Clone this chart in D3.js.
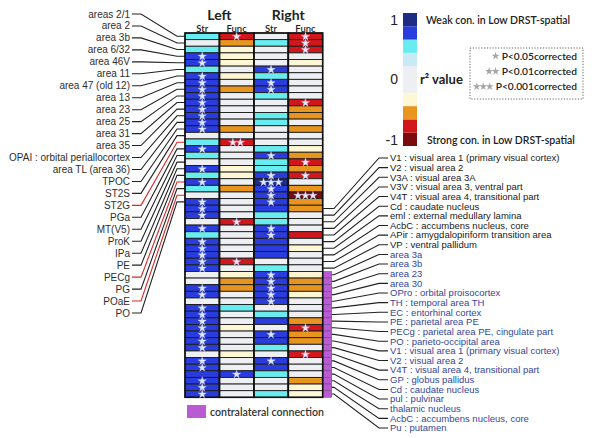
<!DOCTYPE html>
<html><head><meta charset="utf-8">
<script src="https://cdn.jsdelivr.net/npm/d3@7"></script>
<style>body{margin:0;background:#fff}svg{display:block}</style></head>
<body><svg id="c" width="600" height="438"></svg>
<script>
// ---------- data ----------
const leftLabels = ["areas 2/1","area 2","area 3b","area 6/32","area 46V","area 11","area 47 (old 12)","area 13","area 23","area 25","area 31","area 35","OPAI : orbital periallocortex","area TL (area 36)","TPOC","ST2S","ST2G","PGa","MT(V5)","ProK","IPa","PE","PECg","PG","POaE","PO"];
const leftRedLine = [0,0,0,0,0,0,0,0,0,0,0,0,0,0,0,0,1,0,0,0,0,0,1,0,1,0];
const rightLabels = ["V1 : visual area 1 (primary visual cortex)","V2 : visual area 2","V3A : visual area 3A","V3V : visual area 3, ventral part","V4T : visual area 4, transitional part","Cd : caudate nucleus","eml : external medullary lamina","AcbC : accumbens nucleus, core","APir : amygdalopiriform transition area","VP : ventral pallidum","area 3a","area 3b","area 23","area 30","OPro : orbital proisocortex","TH : temporal area TH","EC : entorhinal cortex","PE : parietal area PE","PECg : parietal area PE, cingulate part","PO : parieto-occipital area","V1 : visual area 1 (primary visual cortex)","V2 : visual area 2","V4T : visual area 4, transitional part","GP : globus pallidus","Cd : caudate nucleus","pul : pulvinar","thalamic nucleus","AcbC : accumbens nucleus, core","Pu : putamen"];
const rightContra = [0,0,0,0,0,0,0,0,0,0,1,1,1,1,1,1,1,1,1,1,1,1,1,1,1,1,1,1,1];

const groups = ["Left","Right"];
const columns = ["Str","Func","Str","Func"];

// r² values per row (rows 1-26 = left labels, rows 27-55 = right labels)
const leftStr  = [.5,0,.5,.7,.7,.5,.7,.7,.7,.7, .7,.7,.7,.7,.7,0,.5,.7,.5,0, .7,.5,.7,.5,0,.7,.7,.7,0,.7, .5,.7,.7,.7,.7,.7,0,0,.7,.7, 0,.7,.7,.7,.7,.7,.7,.7,0,.7, .7,.7,.7,.7,.7];
const leftFunc = [-.7,-.5,-.3,-.3,-.3,0,-.3,0,-.5,0, 0,0,0,0,-.5,0,-.7,0,0,0, -.3,-.3,0,-.5,0,0,0,0,-.7,0, 0,0,0,0,-.7,0,-.3,-.5,-.5,0, 0,.5,0,0,-.3,0,0,0,-.3,0, 0,.7,0,0,0];
const rightStr = [0,.5,0,0,0,.7,.5,.7,.7,.5, 0,0,.5,.5,0,0,0,.5,.7,.5, .5,.7,.9,.7,.7,.7,.7,.5,.5,.7, .7,.7,.7,.7,0,.5,.7,.7,.7,.7, .7,0,.5,.7,0,.7,.7,.5,0,.7, .7,.5,0,0,.5];
const rightFunc= [-.7,-.7,-.7,0,-.3,0,0,0,0,0, -.7,-.5,-.5,0,-.5,0,0,-.3,-.5,-.7, -.5,-.7,0,-.5,-.9,-.5,-.5,0,0,0, -.7,0,-.3,0,0,0,-.3,-.5,-.5,-.3, 0,0,0,-.5,-.7,-.5,-.5,0,-.7,0, 0,0,-.5,-.3,-.3];
// significance: number of asterisks
const leftStrSig  = [0,0,0,1,1,0,1,1,1,1, 1,1,1,1,1,0,0,1,0,0, 1,0,1,0,0,1,1,1,0,1, 0,1,1,1,1,1,0,0,1,1, 0,1,1,1,1,1,1,1,0,1, 1,0,1,1,1];
const leftFuncSig = [1,0,0,0,0,0,0,0,0,0, 0,0,0,0,0,0,2,0,0,0, 0,0,0,0,0,0,0,0,1,0, 0,0,0,0,1,0,0,0,0,0, 0,0,0,0,0,0,0,0,0,0, 0,1,0,0,0];
const rightStrSig = [0,0,0,0,0,1,0,1,1,0, 0,0,0,0,0,0,0,0,1,0, 0,1,3,1,1,1,0,0,0,1, 1,0,0,0,0,0,1,1,1,1, 1,0,0,0,0,1,0,0,0,1, 0,0,0,0,0];
const rightFuncSig= [1,1,1,0,0,0,0,0,0,0, 1,0,0,0,0,0,0,0,0,1, 0,1,0,0,3,0,0,0,0,0, 0,0,0,0,0,0,0,0,0,0, 0,0,0,0,1,0,0,0,1,0, 0,0,0,0,0];

const legendTicks = [1, 0, -1];
const sigLabels = ["P<0.05corrected","P<0.01corrected","P<0.001corrected"];

// ---------- scales ----------
const svg = d3.select("#c");
const nRows = leftStr.length;
const colKeys = d3.range(columns.length);
const x = d3.scaleBand().domain(colKeys).range([185, 322.7]);
const y = d3.scaleBand().domain(d3.range(nRows)).range([33, 397.3]);
const color = d3.scaleThreshold()
  .domain([-0.8,-0.6,-0.4,-0.2,0.2,0.4,0.6,0.8])
  .range(["#7c0b0e","#d0181c","#e8951f","#fdf7d6","#edeff2","#c9e9f5","#68ecf0","#2a3ddc","#1e2c84"]);

const colData = [
  {vals:leftStr, sig:leftStrSig},
  {vals:leftFunc, sig:leftFuncSig},
  {vals:rightStr, sig:rightStrSig},
  {vals:rightFunc, sig:rightFuncSig}
];

const labelFont = "'Liberation Sans', Arial, sans-serif";
const gillFont = "Lato, 'Open Sans', sans-serif";

// ---------- headers ----------
svg.selectAll("text.grp").data(groups).enter().append("text")
  .attr("x", (d,i) => (x(i*2) + x(i*2+1) + x.bandwidth()) / 2)
  .attr("y", 20).attr("text-anchor","middle")
  .attr("font-family", gillFont).attr("font-weight", 700).attr("font-size", 14)
  .attr("fill","#222").text(d => d);
svg.selectAll("text.colh").data(columns).enter().append("text")
  .attr("x", (d,i) => x(i) + x.bandwidth()/2)
  .attr("y", 31.5).attr("text-anchor","middle")
  .attr("font-family", gillFont).attr("font-weight", 600).attr("font-size", 9.5)
  .attr("fill","#222").text(d => d);

// ---------- connectors left ----------
const ly = d3.scalePoint().domain(d3.range(leftLabels.length)).range([14, 313]);
const line = d3.line();
const rowC = i => y(i) + y.bandwidth()/2;
const gL = svg.append("g");
leftLabels.forEach((lab, i) => {
  gL.append("path")
    .attr("d", line([[132, ly(i)],[141, ly(i)],[177, rowC(i)],[185, rowC(i)]]))
    .attr("fill","none").attr("stroke", leftRedLine[i] ? "#d42a2a" : "#222").attr("stroke-width", 1.1);
  gL.append("text").attr("x", 130).attr("y", ly(i)).attr("dy","0.35em")
    .attr("text-anchor","end").attr("font-family", labelFont).attr("font-size", 10)
    .attr("fill","#2e2e2e").text(lab);
});

// ---------- contralateral bar ----------
const offset = leftLabels.length;
const barX0 = x(3) + x.bandwidth(), barW = 9;
rightLabels.forEach((lab, j) => {
  if (rightContra[j]) {
    svg.append("rect").attr("x", barX0).attr("y", y(offset+j))
      .attr("width", barW).attr("height", y.bandwidth())
      .attr("fill","#b95bd3").attr("stroke","#6a3a7a").attr("stroke-width",0.5);
  }
});

// ---------- connectors right ----------
const ry = d3.scalePoint().domain(d3.range(rightLabels.length)).range([158, 428]);
const gR = svg.append("g");
rightLabels.forEach((lab, j) => {
  const r = offset + j;
  const sx = rightContra[j] ? barX0 + barW : barX0;
  gR.append("path")
    .attr("d", line([[sx, rowC(r)],[334, rowC(r)],[379, ry(j)],[388, ry(j)]]))
    .attr("fill","none").attr("stroke","#222").attr("stroke-width", 1.1);
  gR.append("text").attr("x", 390).attr("y", ry(j)).attr("dy","0.35em")
    .attr("font-family", labelFont).attr("font-size", 9.5)
    .attr("fill", rightContra[j] ? "#34479b" : "#1a1a1a").text(lab);
});

// ---------- grid ----------
const gG = svg.append("g");
colData.forEach((col, ci) => {
  col.vals.forEach((v, ri) => {
    gG.append("rect").attr("x", x(ci)).attr("y", y(ri))
      .attr("width", x.bandwidth()).attr("height", y.bandwidth())
      .attr("fill", color(v)).attr("stroke","#1a1a1a").attr("stroke-width",0.9);
  });
});
colKeys.forEach(ci => {
  gG.append("rect").attr("x", x(ci)).attr("y", y(0))
    .attr("width", x.bandwidth()).attr("height", y.bandwidth()*nRows)
    .attr("fill","none").attr("stroke","#111").attr("stroke-width",1.6);
});
const star = d3.symbol().type(d3.symbolStar).size(22);
colData.forEach((col, ci) => {
  col.sig.forEach((n, ri) => {
    for (let k = 0; k < n; k++) {
      const cx = x(ci) + x.bandwidth()/2 + (k - (n-1)/2) * 7.5;
      gG.append("path").attr("d", star())
        .attr("transform", `translate(${cx},${rowC(ri)+0.3})`)
        .attr("fill", "#e2e8ff").attr("stroke","#c9d2ff").attr("stroke-width",0.3);
    }
  });
});

// ---------- colour legend ----------
const yL = d3.scaleLinear().domain([1,-1]).range([13,146]);
const edges = [-1].concat(color.domain()).concat([1]);
const gLeg = svg.append("g");
color.range().forEach((c, i) => {
  gLeg.append("rect").attr("x", 403).attr("y", yL(edges[i+1]))
    .attr("width", 14).attr("height", yL(edges[i]) - yL(edges[i+1]))
    .attr("fill", c);
});
gLeg.selectAll("text.tk").data(legendTicks).enter().append("text")
  .attr("x", 398).attr("y", d => Math.max(20, Math.min(140, yL(d))))
  .attr("dy","0.35em").attr("text-anchor","end")
  .attr("font-family", labelFont).attr("font-size", 14).attr("fill","#222")
  .text(d => d);
gLeg.append("text").attr("x", 420).attr("y", yL(0)).attr("dy","0.35em")
  .attr("font-family", gillFont).attr("font-weight",700).attr("font-size", 13)
  .attr("fill","#222").text("r² value");
gLeg.append("text").attr("x", 426).attr("y", 20).attr("dy","0.35em")
  .attr("font-family", gillFont).attr("font-weight",600).attr("font-size", 10.5)
  .attr("fill","#222").text("Weak con. in Low DRST-spatial");
gLeg.append("text").attr("x", 427).attr("y", 140).attr("dy","0.35em")
  .attr("font-family", gillFont).attr("font-weight",600).attr("font-size", 10.5)
  .attr("fill","#222").text("Strong con. in Low DRST-spatial");

// significance box
gLeg.append("rect").attr("x", 470).attr("y", 48).attr("width", 113).attr("height", 51)
  .attr("fill","none").attr("stroke","#555").attr("stroke-width",0.9).attr("stroke-dasharray","1.2,1.6");
const gstar = d3.symbol().type(d3.symbolStar).size(20);
sigLabels.forEach((s, i) => {
  const yy = 56 + i*15.3;
  const t = gLeg.append("text").attr("x", 577).attr("y", yy).attr("dy","0.35em")
    .attr("text-anchor","end").attr("font-family", gillFont).attr("font-weight",600)
    .attr("font-size", 10.2).attr("fill","#222").text(s);
  const w = t.node().getComputedTextLength();
  const n = i + 1;
  for (let k = 0; k < n; k++) {
    gLeg.append("path").attr("d", gstar())
      .attr("transform", `translate(${577 - w - 6 - (n-1-k)*6.5},${yy})`)
      .attr("fill","#a6a6a6");
  }
});

// contralateral legend
svg.append("rect").attr("x", 187).attr("y", 405).attr("width", 19).attr("height", 13)
  .attr("fill","#b95bd3");
svg.append("text").attr("x", 210).attr("y", 412).attr("dy","0.35em")
  .attr("font-family", gillFont).attr("font-weight",600).attr("font-size", 10.6)
  .attr("fill","#333").text("contralateral connection");
</script>
</body></html>
